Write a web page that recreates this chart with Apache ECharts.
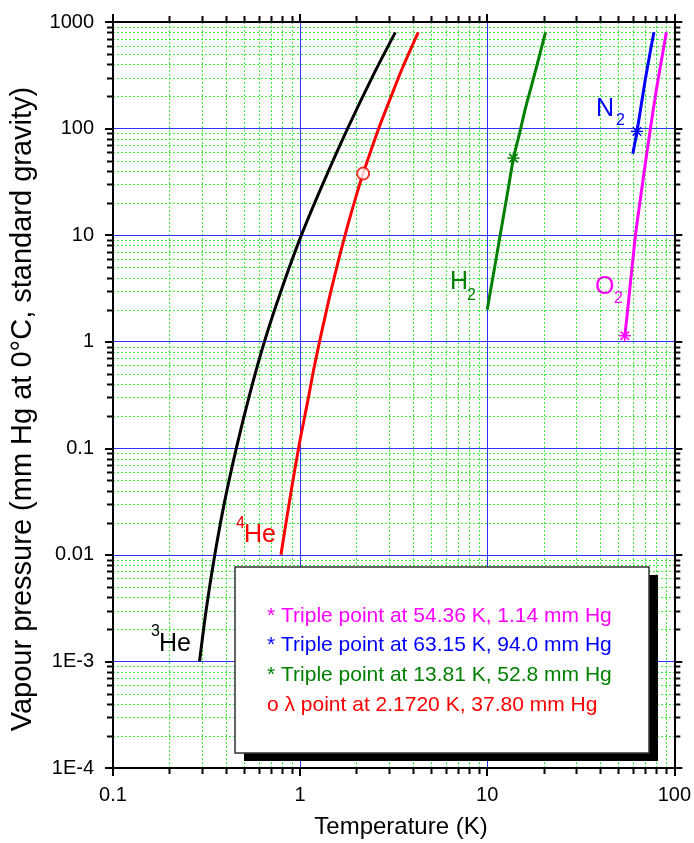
<!DOCTYPE html>
<html>
<head>
<meta charset="utf-8">
<script src="https://cdn.jsdelivr.net/npm/echarts@6/dist/echarts.min.js"></script>
<style>
  html, body { margin: 0; padding: 0; background: #fff; }
  #chart { width: 694px; height: 843px; }
</style>
</head>
<body>
<div id="chart"></div>
<script>
// Vapour pressure curves of cryogenic fluids: [temperature (K), pressure (mm Hg)]
const he3Curve = [
  [0.290, 0.001], [0.3157, 0.00316], [0.350, 0.01], [0.3948, 0.0316], [0.456, 0.1],
  [0.5363, 0.316], [0.6442, 1.0], [0.799, 3.16], [1.016, 10], [1.337, 31.6],
  [1.793, 100], [2.456, 316], [3.228, 800]
];
const he4Curve = [
  [0.79, 0.01], [0.90, 0.0417], [1.00, 0.12], [1.10, 0.28], [1.20, 0.625],
  [1.40, 2.16], [1.60, 5.69], [1.80, 12.47], [2.00, 23.77], [2.172, 37.8],
  [2.63, 100], [3.00, 182], [3.50, 360], [4.00, 615], [4.28, 800]
];
const h2Curve = [
  [10.0, 2.0], [11.0, 5.2], [12.0, 12.6], [13.0, 28.3], [13.81, 52.8],
  [15.0, 95], [16.0, 155], [17.0, 230], [18.0, 335], [19.0, 480], [20.0, 680], [20.5, 800]
];
const n2Curve = [
  [60.0, 58], [63.15, 94.0], [65.0, 128], [70.0, 290], [75.0, 570], [77.35, 760], [77.8, 800]
];
const o2Curve = [
  [54.36, 1.14], [56.0, 1.8], [58.0, 3.3], [60.0, 5.8], [62.0, 10], [65.0, 18.5],
  [70.0, 47], [75.0, 108], [80.0, 225], [85.0, 420], [90.19, 760], [90.7, 800]
];

// Triple points and the lambda point
const o2Triple = [54.36, 1.14];
const n2Triple = [63.15, 94.0];
const h2Triple = [13.81, 52.8];
const he4Lambda = [2.172, 37.80];

// Axis tick labels (one per decade)
const xTickLabels = ['0.1', '1', '10', '100'];
const yTickLabels = ['1E-4', '1E-3', '0.01', '0.1', '1', '10', '100', '1000'];
const X_MIN_EXP = -1, Y_MIN_EXP = -4;

// Legend notes
const legendLines = [
  '* Triple point at 54.36 K, 1.14 mm Hg',
  '* Triple point at 63.15 K, 94.0 mm Hg',
  '* Triple point at 13.81 K, 52.8 mm Hg',
  'o \u03bb point at 2.1720 K, 37.80 mm Hg'
];

const FONT = '"Liberation Sans", Arial, Helvetica, sans-serif';
const C = { he3: '#000000', he4: '#ff0000', h2: '#008000', n2: '#0000ff', o2: '#ff00ff' };
const MAJOR_GRID = '#3030ff';

// 2..9 sub-decade positions for the dotted grid and the short ticks
function subDecades(lo, hi) {
  const out = [];
  for (let e = lo; e < hi; e++) for (let k = 2; k <= 9; k++) out.push(k * Math.pow(10, e));
  return out;
}
const xMinor = subDecades(-1, 2), yMinor = subDecades(-4, 3);

function renderMinorGrid(params, api) {
  const cs = params.coordSys;
  const x0 = cs.x, x1 = cs.x + cs.width, y0 = cs.y, y1 = cs.y + cs.height;
  const ch = [];
  const dotted = { stroke: '#3ee83e', lineWidth: 1, lineDash: [2, 2] };
  const tick = { stroke: '#000', lineWidth: 2 };
  const px = v => Math.round(api.coord([v, 1])[0]) + 0.5;
  const py = v => Math.round(api.coord([1, v])[1]) + 0.5;
  xMinor.forEach(v => {
    const x = px(v);
    ch.push({ type: 'line', shape: { x1: x, y1: y0, x2: x, y2: y1 }, style: dotted });
    ch.push({ type: 'line', shape: { x1: x, y1: y1, x2: x, y2: y1 + 6 }, style: tick });
    ch.push({ type: 'line', shape: { x1: x, y1: y0, x2: x, y2: y0 - 6 }, style: tick });
  });
  yMinor.forEach(v => {
    const y = py(v);
    ch.push({ type: 'line', shape: { x1: x0, y1: y, x2: x1, y2: y }, style: dotted });
    ch.push({ type: 'line', shape: { x1: x0 - 6, y1: y, x2: x0, y2: y }, style: tick });
    ch.push({ type: 'line', shape: { x1: x1, y1: y, x2: x1 + 6, y2: y }, style: tick });
  });
  return { type: 'group', children: ch };
}

function starSeries(point, color) {
  return {
    type: 'custom',
    data: [point],
    z: 6,
    clip: false,
    silent: true,
    renderItem: function (params, api) {
      const p = api.coord([api.value(0), api.value(1)]);
      const r = 6, ch = [];
      [0, 45, 90, 135].forEach(a => {
        const t = a * Math.PI / 180, dx = r * Math.cos(t), dy = r * Math.sin(t);
        ch.push({ type: 'line', shape: { x1: p[0] - dx, y1: p[1] - dy, x2: p[0] + dx, y2: p[1] + dy },
                  style: { stroke: color, lineWidth: 1.5 } });
      });
      return { type: 'group', children: ch };
    }
  };
}

function curve(data, color, smooth) {
  return {
    type: 'line', data: data, showSymbol: false, smooth: smooth, z: 4, silent: true,
    lineStyle: { color: color, width: 3 }
  };
}

function txt(text, x, y, size, color) {
  return {
    type: 'text', x: x, y: y, z: 100,
    style: { text: text, fontFamily: FONT, fontSize: size, fill: color,
             align: 'left', verticalAlign: 'middle', textAlign: 'left', textVerticalAlign: 'middle' }
  };
}

function mainAxis(pos, min, max, labelFmt, margin) {
  return {
    type: 'log', logBase: 10, min: min, max: max, position: pos,
    axisLine: { onZero: false, lineStyle: { color: '#000', width: 2 } },
    axisTick: { length: 8, lineStyle: { color: '#000', width: 2 } },
    axisLabel: { color: '#000', fontSize: 20, fontFamily: FONT, margin: margin, formatter: labelFmt },
    splitLine: { show: true, lineStyle: { color: MAJOR_GRID, width: 1, type: 'solid' } }
  };
}
function mirrorAxis(pos, min, max) {
  return {
    type: 'log', logBase: 10, min: min, max: max, position: pos,
    axisLine: { onZero: false, lineStyle: { color: '#000', width: 2 } },
    axisTick: { length: 8, lineStyle: { color: '#000', width: 2 } },
    axisLabel: { show: false }, splitLine: { show: false }
  };
}

const legendColors = [C.o2, C.n2, C.h2, C.he4];
const legendY = [616, 645, 675, 705];

const chart = echarts.init(document.getElementById('chart'), null, { renderer: 'canvas' });
chart.setOption({
  animation: false,
  backgroundColor: '#fff',
  grid: { left: 113, top: 22, width: 562, height: 746, containLabel: false },
  xAxis: [
    mainAxis('bottom', 0.1, 100, v => xTickLabels[Math.round(Math.log10(v)) - X_MIN_EXP], 17),
    mirrorAxis('top', 0.1, 100)
  ],
  yAxis: [
    mainAxis('left', 1e-4, 1000, v => yTickLabels[Math.round(Math.log10(v)) - Y_MIN_EXP], 19),
    mirrorAxis('right', 1e-4, 1000)
  ],
  series: [
    { type: 'custom', data: [[1, 1]], renderItem: renderMinorGrid, clip: false, silent: true, z: -1 },
    curve(he3Curve, C.he3, 0.3),
    curve(he4Curve, C.he4, 0.3),
    curve(h2Curve, C.h2, 0.2),
    curve(n2Curve, C.n2, 0.2),
    curve(o2Curve, C.o2, 0.3),
    starSeries(o2Triple, C.o2),
    starSeries(n2Triple, C.n2),
    starSeries(h2Triple, C.h2),
    {
      type: 'scatter', data: [he4Lambda], symbol: 'circle', symbolSize: 12, z: 6, silent: true,
      itemStyle: { color: '#fff', borderColor: C.he4, borderWidth: 2 }
    }
  ],
  graphic: [
    // notes box with drop shadow
    { type: 'rect', z: 98, shape: { x: 244, y: 575, width: 414, height: 186 }, style: { fill: '#000' } },
    { type: 'rect', z: 99, shape: { x: 235, y: 567, width: 414, height: 186 },
      style: { fill: '#fff', stroke: '#333', lineWidth: 1.5 } },
    ...legendLines.map((t, i) => txt(t, 267, legendY[i], 21, legendColors[i])),
    // curve labels
    txt('3', 151, 632, 16, C.he3), txt('He', 159, 644, 25, C.he3),
    txt('4', 236, 524, 16, C.he4), txt('He', 244, 535, 25, C.he4),
    txt('H', 450, 282.5, 25, C.h2), txt('2', 467, 296, 16, C.h2),
    txt('N', 596, 109.5, 25, C.n2), txt('2', 616, 121, 16, C.n2),
    txt('O', 595, 287.5, 25, C.o2), txt('2', 614, 299, 16, C.o2),
    // axis titles
    {
      type: 'text', x: 401, y: 827, z: 100,
      style: { text: 'Temperature (K)', fontFamily: FONT, fontSize: 24, fill: '#000',
               align: 'center', verticalAlign: 'middle', textAlign: 'center', textVerticalAlign: 'middle' }
    },
    {
      type: 'text', x: 23, y: 409, z: 100, rotation: Math.PI / 2,
      style: { text: 'Vapour pressure (mm Hg at 0\u00b0C, standard gravity)', fontFamily: FONT, fontSize: 29, fill: '#000',
               align: 'center', verticalAlign: 'middle', textAlign: 'center', textVerticalAlign: 'middle' }
    }
  ]
});
</script>
</body>
</html>
